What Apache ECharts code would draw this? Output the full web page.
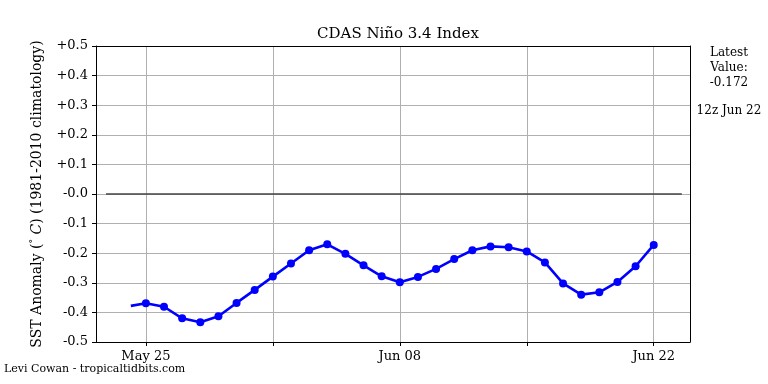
<!DOCTYPE html>
<html><head><meta charset="utf-8">
<script src="https://cdn.jsdelivr.net/npm/echarts@6/dist/echarts.min.js"></script>
<style>html,body{margin:0;padding:0;background:#fff}#c{width:768px;height:384px}</style>
</head><body><div id="c"></div>
<script>
// x values: days since May 25 (12z)
const days = [0,1,2,3,4,5,6,7,8,9,10,11,12,13,14,15,16,17,18,19,20,21,22,23,24,25,26,27,28];
const values = [-0.369,-0.381,-0.420,-0.433,-0.413,-0.368,-0.324,-0.279,-0.235,-0.190,-0.170,-0.202,-0.241,-0.278,-0.298,-0.280,-0.253,-0.220,-0.190,-0.177,-0.180,-0.194,-0.231,-0.302,-0.340,-0.332,-0.297,-0.244,-0.172];
const leadDay = -0.83, leadValue = -0.378;
const zeroLineDays = [-2.2, 29.55];
const xTickDays = [0,7,14,21,28];
const xTickLabels = ['May 25','','Jun 08','','Jun 22'];
const yTickValues = [-0.5,-0.4,-0.3,-0.2,-0.1,0,0.1,0.2,0.3,0.4,0.5];
const yTickLabels = ['-0.5','-0.4','-0.3','-0.2','-0.1','-0.0','+0.1','+0.2','+0.3','+0.4','+0.5'];
const titleText = 'CDAS Niño 3.4 Index';
const latestText = 'Latest\nValue:\n-0.172';
const timeText = '12z Jun 22';
const creditText = 'Levi Cowan - tropicaltidbits.com';

const F = 'DejaVu Serif';
const chart = echarts.init(document.getElementById('c'), null, {renderer:'canvas'});
const lineData = [{value:[leadDay, leadValue], symbol:'none'}].concat(days.map((d,i)=>[d, values[i]]));
chart.setOption({
  animation:false,
  backgroundColor:'#fff',
  title:{text:titleText, left:393, top:22, textAlign:'center',
    textStyle:{fontFamily:F, fontSize:15, fontWeight:'normal', color:'#000'}},
  grid:{left:96, right:78, top:46, bottom:42, show:false},
  xAxis:[{type:'value', min:-2.75, max:30, position:'bottom',
    axisLine:{show:true, onZero:false, lineStyle:{color:'#000', width:1}},
    axisTick:{show:true, length:4, inside:false, customValues:xTickDays, lineStyle:{color:'#000'}},
    axisLabel:{customValues:xTickDays, fontFamily:F, fontSize:13, color:'#000', margin:8,
      formatter:v=>{const i=xTickDays.indexOf(Math.round(v)); return i>=0?xTickLabels[i]:'';}},
    splitLine:{show:true, lineStyle:{color:'#b0b0b0', width:1}}},
    {type:'value', min:-2.75, max:30, position:'top',
    axisLine:{show:true, onZero:false, lineStyle:{color:'#000', width:1}},
    axisTick:{show:false}, axisLabel:{show:false}, splitLine:{show:false}}],
  yAxis:[{type:'value', min:-0.5, max:0.5, interval:0.1, position:'left',
    axisLine:{show:true, onZero:false, lineStyle:{color:'#000'}},
    axisTick:{show:true, length:4, lineStyle:{color:'#000'}},
    axisLabel:{fontFamily:F, fontSize:13, color:'#000', margin:8,
      formatter:v=>{let best=0;for(let i=0;i<yTickValues.length;i++){if(Math.abs(yTickValues[i]-v)<Math.abs(yTickValues[best]-v))best=i;}return yTickLabels[best];}},
    splitLine:{show:true, lineStyle:{color:'#b0b0b0', width:1}}},
    {type:'value', min:-0.5, max:0.5, interval:0.1, position:'right',
    axisLine:{show:true, onZero:false, lineStyle:{color:'#000'}},
    axisTick:{show:false}, axisLabel:{show:false}, splitLine:{show:false}}],
  graphic:[
    {type:'text', x:729, y:45, style:{text:latestText, textAlign:'center', fontFamily:F, fontSize:12, lineHeight:15, fill:'#000'}},
    {type:'text', x:729, y:105, style:{text:timeText, textAlign:'center', fontFamily:F, fontSize:12, fill:'#000'}},
    {type:'text', x:4, y:364, style:{text:creditText, textAlign:'left', fontFamily:F, fontSize:11, fill:'#000'}},
    {type:'text', rotation:Math.PI/2, x:37, y:194, style:{
      text:'{a|SST Anomaly (}{s|°}{a| }{i|C}{a|) (1981-2010 climatology)}', textAlign:'center', textVerticalAlign:'middle',
      rich:{a:{fontFamily:F, fontSize:14, fill:'#000'}, i:{fontFamily:F, fontSize:14, fontStyle:'italic', fill:'#000'}, s:{fontFamily:F, fontSize:9, fill:'#000', verticalAlign:'top', padding:[0,0,7,0]}}}}
  ],
  series:[
    {type:'line', data:zeroLineDays.map(d=>[d,0]), symbol:'none', lineStyle:{color:'#444', width:1.3}, silent:true},
    {type:'line', data:lineData, symbol:'circle', symbolSize:8, showAllSymbol:true,
      itemStyle:{color:'#0000ff'}, lineStyle:{color:'#0000ff', width:2.6}}
  ]
});
</script></body></html>
